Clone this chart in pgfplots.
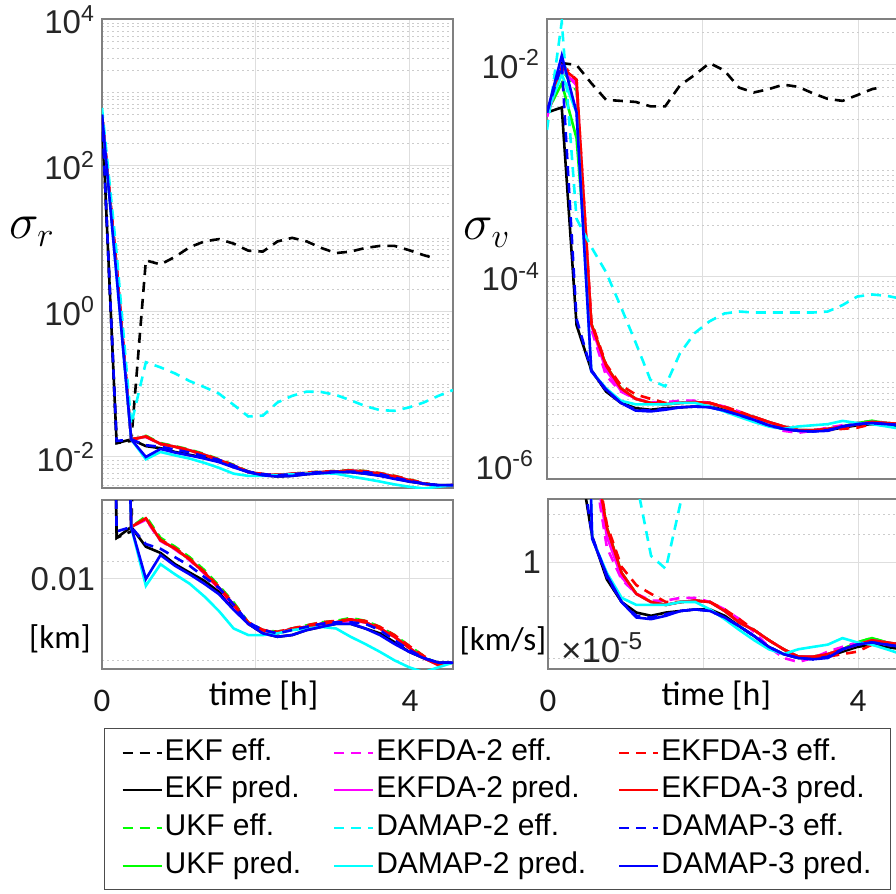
\documentclass[border=0pt]{standalone}
\usepackage{pgfplots}
\pgfplotsset{compat=1.18}
\usepackage{pgfplotstable}
\usepackage{fontspec}
\setmainfont{Liberation Sans}
\newfontfamily\carlito{Carlito}

\definecolor{mgreen}{rgb}{0,1,0}
\definecolor{mcyan}{rgb}{0,1,1}
\definecolor{mmag}{rgb}{1,0,1}
\definecolor{mred}{rgb}{1,0,0}
\definecolor{mblue}{rgb}{0,0,1}

% position error sigma [km]
\pgfplotstableread{
t    ekfE   ekfP   ukfE   ukfP   daE2   daP2   daE3   daP3   mpE2   mpP2   mpE3   mpP3
0    500    500    500    500    500    500    500    500    620    500    500    500
0.19 0.0155 0.0155 4.0    4.0    4.0    4.0    4.0    4.0    6.3    3.0    0.0166 3.0
0.38 0.0166 0.0174 0.0174 0.0174 0.0174 0.0174 0.0174 0.0174 0.028  0.0174 0.0174 0.0174
0.57 5.0    0.0141 0.0195 0.0190 0.0188 0.0190 0.0191 0.0191 0.20   0.0093 0.0145 0.0100
0.76 4.4    0.0132 0.0155 0.0151 0.0150 0.0151 0.0152 0.0151 0.17   0.0117 0.0138 0.0129
0.95 5.6    0.0117 0.0141 0.0138 0.0137 0.0138 0.0139 0.0138 0.14   0.0105 0.0126 0.0115
1.14 7.6    0.0107 0.0126 0.0123 0.0122 0.0123 0.0124 0.0123 0.11   0.0095 0.0115 0.0105
1.33 9.1    0.0098 0.0110 0.0107 0.0106 0.0107 0.0108 0.0107 0.091  0.0083 0.0102 0.0095
1.52 9.8    0.0087 0.0093 0.0091 0.0090 0.0091 0.0092 0.0091 0.074  0.0071 0.0091 0.0085
1.71 8.5    0.0074 0.0078 0.0076 0.0075 0.0076 0.0077 0.0076 0.052  0.0059 0.0076 0.0072
1.90 6.8    0.0062 0.0063 0.0062 0.0062 0.0062 0.0063 0.0062 0.036  0.0055 0.0063 0.0062
2.09 6.6    0.0056 0.0058 0.0058 0.0058 0.0058 0.0058 0.0058 0.037  0.0055 0.0058 0.0056
2.28 9.1    0.0054 0.0057 0.0056 0.0056 0.0056 0.0057 0.0056 0.056  0.0056 0.0056 0.0054
2.47 10.2   0.0055 0.0059 0.0059 0.0059 0.0059 0.0059 0.0059 0.069  0.0058 0.0058 0.0055
2.66 9.1    0.0058 0.0061 0.0060 0.0060 0.0060 0.0061 0.0060 0.079  0.0059 0.0060 0.0058
2.85 7.4    0.0060 0.0063 0.0062 0.0062 0.0062 0.0063 0.0062 0.078  0.0060 0.0062 0.0060
3.04 6.3    0.0062 0.0064 0.0063 0.0063 0.0063 0.0064 0.0063 0.071  0.0059 0.0063 0.0062
3.23 6.6    0.0062 0.0066 0.0065 0.0064 0.0065 0.0065 0.0065 0.060  0.0054 0.0063 0.0062
3.42 7.4    0.0059 0.0064 0.0063 0.0063 0.0063 0.0064 0.0063 0.050  0.0050 0.0062 0.0059
3.61 7.9    0.0056 0.0060 0.0059 0.0059 0.0059 0.0060 0.0059 0.044  0.0046 0.0058 0.0055
3.80 7.9    0.0051 0.0055 0.0054 0.0054 0.0054 0.0055 0.0054 0.043  0.0042 0.0052 0.0050
3.99 6.9    0.0046 0.0049 0.0048 0.0048 0.0048 0.0049 0.0048 0.048  0.0039 0.0047 0.0046
4.18 5.9    0.0043 0.0044 0.0043 0.0043 0.0043 0.0044 0.0043 0.056  0.0037 0.0043 0.0043
4.28 5.5    nan    nan    nan    nan    nan    nan    nan    nan    nan    nan    nan
4.37 nan    0.0041 0.0040 0.0040 0.0040 0.0040 0.0040 0.0040 0.069  0.0039 0.0041 0.0041
4.56 nan    0.0041 0.0041 0.0041 0.0041 0.0041 0.0041 0.0041 0.083  0.0041 0.0041 0.0041
}\posdata

% velocity error sigma [km/s]
\pgfplotstableread{
t    ekfE    ekfP    ukfE    ukfP    daE2    daP2    daE3    daP3    mpE2    mpP2    mpE3    mpP3
0    3.5e-3  3.5e-3  3.5e-3  3.5e-3  3.2e-3  3.2e-3  3.5e-3  3.5e-3  2.4e-3  3.5e-3  3.5e-3  3.5e-3
0.19 1.02e-2 3.9e-3  8.9e-3  6.6e-3  9.5e-3  8.9e-3  1.0e-2  9.3e-3  2.5e-2  8.0e-3  1.0e-2  1.2e-2
0.38 9.8e-3  3.5e-5  5.6e-3  2.0e-3  6.6e-3  6.3e-3  7.1e-3  7.1e-3  3.5e-4  3.5e-3  4.0e-5  3.5e-3
0.57 6.6e-3  1.32e-5 3.6e-5  3.6e-5  3.2e-5  3.5e-5  3.8e-5  3.6e-5  1.9e-4  1.29e-5 1.32e-5 1.29e-5
0.76 4.6e-3  8.3e-6  1.45e-5 1.45e-5 1.17e-5 1.32e-5 1.5e-5  1.45e-5 1.1e-4  8.9e-6  8.5e-6  8.7e-6
0.95 4.5e-3  6.5e-6  8.9e-6  8.9e-6  8.3e-6  8.5e-6  9.5e-6  8.9e-6  5.2e-5  6.8e-6  6.5e-6  6.5e-6
1.14 4.4e-3  5.8e-6  7.1e-6  7.1e-6  7.1e-6  7.1e-6  7.8e-6  7.1e-6  2.4e-5  6.3e-6  5.6e-6  5.5e-6
1.33 4.0e-3  5.6e-6  6.5e-6  6.5e-6  6.6e-6  6.5e-6  7.1e-6  6.5e-6  1.07e-5 6.3e-6  5.5e-6  5.4e-6
1.52 4.0e-3  5.8e-6  6.3e-6  6.3e-6  6.6e-6  6.3e-6  6.5e-6  6.3e-6  9.3e-6  6.3e-6  5.7e-6  5.6e-6
1.71 6.3e-3  5.9e-6  6.5e-6  6.5e-6  6.8e-6  6.5e-6  6.5e-6  6.5e-6  1.9e-5  6.5e-6  5.9e-6  5.9e-6
1.90 7.9e-3  6.0e-6  6.6e-6  6.6e-6  6.8e-6  6.6e-6  6.6e-6  6.6e-6  2.95e-5 6.5e-6  6.0e-6  6.0e-6
2.09 1.02e-2 6.0e-6  6.5e-6  6.5e-6  6.5e-6  6.5e-6  6.5e-6  6.5e-6  3.8e-5  6.0e-6  5.9e-6  5.9e-6
2.28 8.7e-3  5.6e-6  5.9e-6  5.9e-6  6.0e-6  5.9e-6  6.0e-6  5.9e-6  4.5e-5  5.4e-6  5.5e-6  5.5e-6
2.47 6.0e-3  5.0e-6  5.2e-6  5.2e-6  5.4e-6  5.2e-6  5.4e-6  5.2e-6  4.7e-5  4.8e-6  5.0e-6  5.0e-6
2.66 5.4e-3  4.5e-6  4.8e-6  4.8e-6  4.7e-6  4.8e-6  4.8e-6  4.8e-6  4.6e-5  4.3e-6  4.5e-6  4.5e-6
2.85 5.8e-3  4.0e-6  4.3e-6  4.3e-6  4.0e-6  4.3e-6  4.3e-6  4.3e-6  4.6e-5  3.9e-6  4.0e-6  4.0e-6
3.04 6.4e-3  3.7e-6  3.9e-6  3.9e-6  3.55e-6 3.9e-6  3.9e-6  3.9e-6  4.6e-5  3.7e-6  3.7e-6  3.7e-6
3.23 6.1e-3  3.55e-6 3.6e-6  3.6e-6  3.4e-6  3.6e-6  3.6e-6  3.6e-6  4.6e-5  3.9e-6  3.55e-6 3.55e-6
3.42 5.3e-3  3.55e-6 3.6e-6  3.6e-6  3.55e-6 3.6e-6  3.55e-6 3.6e-6  4.6e-5  4.0e-6  3.5e-6  3.5e-6
3.61 4.7e-3  3.6e-6  3.7e-6  3.7e-6  3.8e-6  3.7e-6  3.6e-6  3.7e-6  4.7e-5  4.1e-6  3.6e-6  3.55e-6
3.80 4.5e-3  3.8e-6  3.9e-6  3.9e-6  4.0e-6  3.9e-6  3.7e-6  3.9e-6  5.4e-5  4.4e-6  3.9e-6  3.9e-6
3.99 5.1e-3  4.0e-6  4.2e-6  4.2e-6  4.2e-6  4.1e-6  3.8e-6  4.1e-6  6.5e-5  4.2e-6  4.1e-6  4.1e-6
4.18 5.8e-3  4.1e-6  4.4e-6  4.4e-6  4.2e-6  4.3e-6  4.1e-6  4.3e-6  6.8e-5  4.1e-6  4.2e-6  4.2e-6
4.28 6.0e-3  nan     nan     nan     nan     nan     nan     nan     nan     nan     nan     nan
4.37 nan     4.0e-6  4.2e-6  4.2e-6  4.1e-6  4.2e-6  4.2e-6  4.2e-6  6.6e-5  3.9e-6  4.1e-6  4.1e-6
4.56 nan     3.9e-6  4.1e-6  4.1e-6  4.0e-6  4.1e-6  4.1e-6  4.1e-6  6.2e-5  3.7e-6  4.0e-6  4.0e-6
}\veldata

% dotted grid at 2..9 x 10^n and at the unlabelled decades
\def\minorlist{1e-7,1e-5,1e-3,1e-1,1e1,1e3}
\foreach \n in {-7,...,3}{\foreach \k in {2,...,9}{\xdef\minorlist{\minorlist,\k e\n}}}

\newcommand{\fs}{\fontsize{16.5}{19}\selectfont}
\newcommand{\fc}{\carlito\fontsize{16.5}{19}\selectfont}

\pgfplotsset{
  ekfE/.style={black, line width=1.3pt, dash pattern=on 5pt off 3.5pt},
  ekfP/.style={black, line width=1.3pt},
  ukfE/.style={mgreen, line width=1.3pt, dash pattern=on 5pt off 3.5pt},
  ukfP/.style={mgreen, line width=1.3pt},
  daE2/.style={mmag, line width=1.3pt, dash pattern=on 5pt off 3.5pt},
  daP2/.style={mmag, line width=1.3pt},
  daE3/.style={mred, line width=1.3pt, dash pattern=on 5pt off 3.5pt},
  daP3/.style={mred, line width=1.3pt},
  mpE2/.style={mcyan, line width=1.3pt, dash pattern=on 5pt off 3.5pt},
  mpP2/.style={mcyan, line width=1.3pt},
  mpE3/.style={mblue, line width=1.3pt, dash pattern=on 5pt off 3.5pt},
  mpP3/.style={mblue, line width=1.3pt},
  panel/.style={
    scale only axis, anchor=north west,
    xmin=0, xmax=4.56,
    xtick={0,2,4}, xticklabels={},
    unbounded coords=discard,
    axis line style={draw=black!50, line width=0.6pt},
    tick style={draw=none},
    xmajorgrids, ymajorgrids, yminorgrids,
    major grid style={black!13, line width=0.5pt},
    minor grid style={black!20, line width=0.5pt, dash pattern=on 1pt off 1.5pt},
    yticklabel style={font=\fs, text=black!85},
    xticklabel style={font=\fc, text=black!90, yshift=-7pt},
    xlabel style={font=\carlito\fontsize{17}{20}\selectfont, anchor=center, yshift=-13.5pt},
  },
}

\newcommand{\allcurves}[1]{%
  \addplot[ekfE] table[x=t,y=ekfE]{#1};
  \addplot[ekfP] table[x=t,y=ekfP]{#1};
  \addplot[ukfE] table[x=t,y=ukfE]{#1};
  \addplot[ukfP] table[x=t,y=ukfP]{#1};
  \addplot[daE2] table[x=t,y=daE2]{#1};
  \addplot[daP2] table[x=t,y=daP2]{#1};
  \addplot[daE3] table[x=t,y=daE3]{#1};
  \addplot[daP3] table[x=t,y=daP3]{#1};
  \addplot[mpE2] table[x=t,y=mpE2]{#1};
  \addplot[mpP2] table[x=t,y=mpP2]{#1};
  \addplot[mpE3] table[x=t,y=mpE3]{#1};
  \addplot[mpP3] table[x=t,y=mpP3]{#1};
}

\begin{document}
\begin{tikzpicture}[x=0.5pt,y=-0.5pt]
\useasboundingbox (0,0) rectangle (896,894);
\clip (0,0) rectangle (896,894);

% position, full range
\begin{semilogyaxis}[panel, at={(51pt,-9.5pt)}, width=175.5pt, height=234.5pt,
  ymin=3.75e-3, ymax=1.03e4,
  ytick={1e-2,1,1e2,1e4},
  yticklabels={10\textsuperscript{-2},10\textsuperscript{0},10\textsuperscript{2},10\textsuperscript{4}},
  minor ytick/.expanded={\minorlist}]
  \allcurves{\posdata}
\end{semilogyaxis}

% velocity, full range
\begin{semilogyaxis}[panel, at={(273.5pt,-9.5pt)}, width=177.3pt, height=230pt,
  ymin=1.25e-6, ymax=2.65e-2,
  ytick={1e-4,1e-2},
  yticklabels={10\textsuperscript{-4},10\textsuperscript{-2}},
  minor ytick/.expanded={\minorlist}]
  \allcurves{\veldata}
\end{semilogyaxis}

% position, detail
\begin{semilogyaxis}[panel, at={(51pt,-250pt)}, width=175.5pt, height=84.5pt,
  ymin=3.83e-3, ymax=2.32e-2,
  ytick={0.01}, yticklabels={0.01},
  minor ytick={0.0042,0.0121,0.0162,0.02},
  xticklabels={0,,4},
  xlabel={time [h]}, xlabel style={at={(rel axis cs:0.46,0)}}]
  \allcurves{\posdata}
\end{semilogyaxis}

% velocity, detail
\begin{semilogyaxis}[panel, at={(274pt,-249.5pt)}, width=176.7pt, height=85pt,
  ymin=3.15e-6, ymax=1.98e-5,
  ytick={1e-5}, yticklabels={1},
  minor ytick={0.354e-5,0.69e-5,1.35e-5,1.68e-5},
  xticklabels={0,,4},
  xlabel={time [h]}, xlabel style={at={(rel axis cs:0.476,0)}}]
  \allcurves{\veldata}
\end{semilogyaxis}

% legend
\begin{axis}[hide axis, scale only axis, width=10pt, height=10pt,
  at={(52pt,-364pt)}, anchor=north west,
  xmin=0, xmax=1, ymin=0, ymax=1,
  legend columns=3, legend cell align=left,
  legend image code/.code={\draw[#1, line width=1pt] (0pt,0pt) -- (19.5pt,0pt);},
  legend style={at={(0,1)}, anchor=north west, draw=black!70, line width=0.6pt,
    inner xsep=8.5pt, inner ysep=4pt, row sep=2.95pt,
    font=\fontsize{15}{18}\selectfont,
    nodes={inner sep=1pt, text height=10.7pt, text depth=3.2pt},
    /tikz/every even column/.append style={column sep=15pt}}]
  \addlegendimage{ekfE} \addlegendentry{EKF eff.}
  \addlegendimage{daE2} \addlegendentry{EKFDA-2 eff.}
  \addlegendimage{daE3} \addlegendentry{EKFDA-3 eff.}
  \addlegendimage{ekfP} \addlegendentry{EKF pred.}
  \addlegendimage{daP2} \addlegendentry{EKFDA-2 pred.}
  \addlegendimage{daP3} \addlegendentry{EKFDA-3 pred.}
  \addlegendimage{ukfE} \addlegendentry{UKF eff.}
  \addlegendimage{mpE2} \addlegendentry{DAMAP-2 eff.}
  \addlegendimage{mpE3} \addlegendentry{DAMAP-3 eff.}
  \addlegendimage{ukfP} \addlegendentry{UKF pred.}
  \addlegendimage{mpP2} \addlegendentry{DAMAP-2 pred.}
  \addlegendimage{mpP3} \addlegendentry{DAMAP-3 pred.}
\end{axis}

% axis titles and units
\node at (32,232) {\fontsize{26}{30}\selectfont$\sigma_r$};
\node at (487,233) {\fontsize{26}{30}\selectfont$\sigma_v$};
\node[anchor=east, text=black!85] at (541,465) {\fs 10\textsuperscript{-6}};
\node at (60,639) {\fc [km]};
\node at (503,641) {\fc [km/s]};
\node[anchor=west, text=black!85] at (554,648) {\fontsize{17.5}{21}\selectfont ×10\textsuperscript{-5}};
\end{tikzpicture}
\end{document}
